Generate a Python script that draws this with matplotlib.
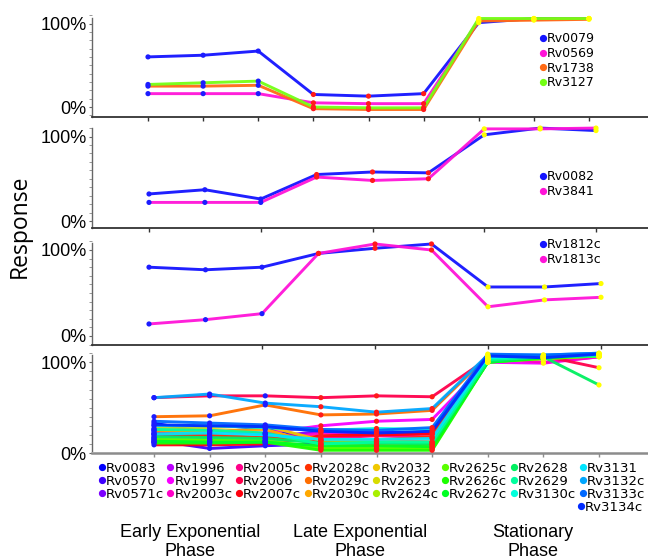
import matplotlib
matplotlib.use("Agg")
import matplotlib.pyplot as plt
from matplotlib.lines import Line2D
from matplotlib.ticker import FixedLocator, MultipleLocator

W, H, DPI = 648, 560, 100

# ---------------- data ----------------
timepoints = [0, 1, 2, 3, 4, 5, 6, 7, 8]
point_phase = [0, 0, 0, 1, 1, 1, 2, 2, 2]
phase_labels = ["Early Exponential\nPhase", "Late Exponential\nPhase", "Stationary\nPhase"]
phase_colors = ["#1c1cff", "#ff1a1a", "#ffff00"]
y_tick_values = [0, 100]
y_tick_labels = ["0%", "100%"]

panel1_genes = ["Rv0079", "Rv0569", "Rv1738", "Rv3127"]
panel1_colors = ["#1414ff", "#ff14d8", "#ff6a14", "#74ff14"]
panel1_values = [
    [60, 62, 67, 15, 13, 16, 101, 106, 106],
    [16, 16, 16, 5, 4, 4, 104, 105, 106],
    [25, 25, 26, -2, -3, -3, 103, 104, 105],
    [27, 29, 31, 0, -1, -1, 106, 106, 106],
]

panel2_genes = ["Rv0082", "Rv3841"]
panel2_colors = ["#1414ff", "#ff14d8"]
panel2_values = [
    [32, 37, 26, 55, 58, 57, 102, 110, 107],
    [22, 22, 22, 52, 48, 50, 109, 109, 110],
]

panel3_genes = ["Rv1812c", "Rv1813c"]
panel3_colors = ["#1414ff", "#ff14d8"]
panel3_values = [
    [80, 77, 80, 96, 102, 107, 57, 57, 61],
    [14, 19, 26, 96, 107, 100, 34, 42, 45],
]

panel4_genes = ["Rv0083", "Rv0570", "Rv0571c", "Rv1996", "Rv1997", "Rv2003c",
                "Rv2005c", "Rv2006", "Rv2007c", "Rv2028c", "Rv2029c", "Rv2030c",
                "Rv2032", "Rv2623", "Rv2624c", "Rv2625c", "Rv2626c", "Rv2627c",
                "Rv2628", "Rv2629", "Rv3130c", "Rv3131", "Rv3132c", "Rv3133c",
                "Rv3134c"]
panel4_colors = ["#0000ff", "#3e00ff", "#7c00ff", "#ba00ff", "#f800ff", "#ff00c8",
                 "#ff008a", "#ff004c", "#ff000e", "#ff3000", "#ff6e00", "#ffa800",
                 "#f0c800", "#d8dc00", "#a8f000", "#5aff00", "#1cff00", "#00ff22",
                 "#00f060", "#00ff9e", "#00ffdc", "#00e5ff", "#00a7ff", "#0069ff",
                 "#002bff"]
panel4_values = [
    [33, 22, 28, 14, 13, 12, 104, 106, 108],
    [14, 5, 8, 10, 9, 10, 106, 104, 108],
    [20, 18, 17, 24, 23, 22, 104, 105, 107],
    [12, 12, 11, 7, 8, 9, 103, 104, 107],
    [22, 24, 22, 30, 35, 37, 100, 99, 106],
    [17, 15, 13, 22, 20, 21, 105, 100, 106],
    [24, 25, 21, 16, 19, 17, 103, 107, 108],
    [61, 63, 63, 61, 63, 62, 104, 107, 94],
    [9, 9, 10, 19, 20, 21, 103, 106, 107],
    [21, 20, 17, 13, 14, 18, 106, 107, 108],
    [40, 41, 53, 42, 43, 47, 107, 106, 108],
    [25, 24, 26, 9, 8, 9, 104, 106, 108],
    [27, 28, 30, 14, 13, 12, 104, 106, 108],
    [16, 15, 14, 6, 5, 6, 102, 105, 107],
    [12, 13, 14, 4, 4, 4, 101, 104, 107],
    [15, 14, 13, 5, 5, 6, 100, 104, 107],
    [11, 11, 12, 3, 3, 3, 100, 105, 108],
    [13, 12, 12, 8, 8, 7, 100, 105, 108],
    [18, 17, 16, 11, 11, 10, 101, 106, 75],
    [26, 25, 22, 10, 12, 12, 103, 106, 107],
    [30, 30, 28, 25, 27, 26, 105, 107, 109],
    [21, 22, 20, 15, 15, 16, 106, 107, 109],
    [61, 65, 55, 51, 45, 49, 108, 108, 110],
    [35, 33, 31, 26, 25, 28, 109, 108, 110],
    [31, 30, 29, 24, 22, 24, 107, 105, 109],
]

# ---------------- layout (pixel geometry) ----------------
plt.rcParams["font.family"] = ["Liberation Sans", "DejaVu Sans"]
fig = plt.figure(figsize=(W / DPI, H / DPI), dpi=DPI)

SPINE_X = 92
# y0px, y100px, spine_bottom, spine_top, ylim_top, x_first, x_last, xtick idx, bottom color, bottom lw
geom = [
    (107.0, 23.5, 117.0, 18.0, 112, 148, 589, [0, 1, 2, 3, 4, 5, 6, 7, 8], "#333333", 1.3),
    (221.0, 136.5, 228.0, 128.0, 113, 149, 596, [0, 2, 4, 6, 8], "#333333", 1.3),
    (336.0, 250.0, 345.0, 243.0, 112, 149, 601, [2, 4, 6, 8], "#333333", 1.3),
    (455.0, 362.5, 453.0, 355.0, 112, 154, 599, [0, 1, 2, 3, 4, 5, 6, 7, 8], "#8c8c8c", 1.8),
]

panels = [
    (panel1_genes, panel1_colors, panel1_values),
    (panel2_genes, panel2_colors, panel2_values),
    (panel3_genes, panel3_colors, panel3_values),
    (panel4_genes, panel4_colors, panel4_values),
]

axes = []
for (y0, y100, sb, st, ytop, xf, xl, xt, bcol, blw), (genes, cols, vals) in zip(geom, panels):
    ppp = (y0 - y100) / 100.0
    ybot = -(sb - y0) / ppp
    top_px = y0 - ytop * ppp
    ax = fig.add_axes([SPINE_X / W, 1 - sb / H, (W - SPINE_X) / W, (sb - top_px) / H])
    d = (xl - xf) / 8.0
    ax.set_xlim(-(xf - SPINE_X) / d, 8 + (W - xl) / d)
    ax.set_ylim(ybot, ytop)
    for s in ["top", "right"]:
        ax.spines[s].set_visible(False)
    ax.spines["left"].set_color("#666666")
    ax.spines["left"].set_linewidth(1.0)
    ax.spines["left"].set_bounds(ybot, (y0 - st) / ppp)
    ax.spines["bottom"].set_color(bcol)
    ax.spines["bottom"].set_linewidth(blw)
    ax.patch.set_alpha(0)

    ax.xaxis.set_major_locator(FixedLocator(xt))
    ax.set_xticklabels([])
    ax.tick_params(axis="x", length=3, width=1, color=bcol, direction="out")
    ax.set_yticks(y_tick_values)
    ax.set_yticklabels(y_tick_labels, fontsize=13, family=["Liberation Sans"])
    ax.yaxis.set_minor_locator(MultipleLocator(10))
    ax.tick_params(axis="y", which="major", length=2, width=0.8, color="#666666", pad=2)
    ax.tick_params(axis="y", which="minor", length=2, width=0.6, color="#888888")

    for g, c, v in zip(genes, cols, vals):
        ax.plot(timepoints, v, color=c, lw=2.1, solid_capstyle="round",
                solid_joinstyle="round", clip_on=False, zorder=2, alpha=0.95)
    for v in vals:
        ax.scatter(timepoints, v, c=[phase_colors[p] for p in point_phase], s=14,
                   linewidths=0, zorder=4, clip_on=False)
    axes.append(ax)

# panel legends (upper right)
legend_tops = [32.5, 170.5, 238.5]
for ax, (genes, cols, vals), top in zip(axes[:3], panels[:3], legend_tops):
    handles = [Line2D([], [], marker="o", linestyle="none", color=c, markersize=4.2, label=g)
               for g, c in zip(genes, cols)]
    ax.legend(handles=handles, loc="upper left", bbox_to_anchor=(540.5 / W, 1 - top / H),
              bbox_transform=fig.transFigure, frameon=False, borderpad=0, borderaxespad=0,
              handlelength=0.4, handletextpad=0.1, labelspacing=0.13,
              prop={"family": "DejaVu Sans", "size": 9})

# bottom legend (24 entries in 8 columns of 3, last entry below)
handles4 = [Line2D([], [], marker="o", linestyle="none", color=c, markersize=4.2, label=g)
            for g, c in zip(panel4_genes, panel4_colors)]
leg_main = fig.legend(handles=handles4[:24], loc="upper left", ncol=8,
                      bbox_to_anchor=(99.0 / W, 1 - 462.0 / H), frameon=False,
                      borderpad=0, borderaxespad=0, handlelength=0.4, handletextpad=0.1,
                      columnspacing=0.3, labelspacing=0.0,
                      prop={"family": "DejaVu Sans", "size": 9.5})
leg_extra = fig.legend(handles=handles4[24:], loc="upper left",
                       bbox_to_anchor=(578.5 / W, 1 - 501.0 / H), frameon=False,
                       borderpad=0, borderaxespad=0, handlelength=0.4, handletextpad=0.1,
                       prop={"family": "DejaVu Sans", "size": 9.5})

# phase labels
for lab, xp in zip(phase_labels, [190, 360, 533]):
    fig.text(xp / W, 1 - 542 / H, lab, ha="center", va="center", fontsize=13,
             linespacing=1.2, family=["Liberation Sans"])

fig.text(20 / W, 1 - 226 / H, "Response", rotation=90, ha="center", va="center",
         fontsize=16.5, family=["Open Sans", "DejaVu Sans"])

fig.savefig("out.png", dpi=DPI)
